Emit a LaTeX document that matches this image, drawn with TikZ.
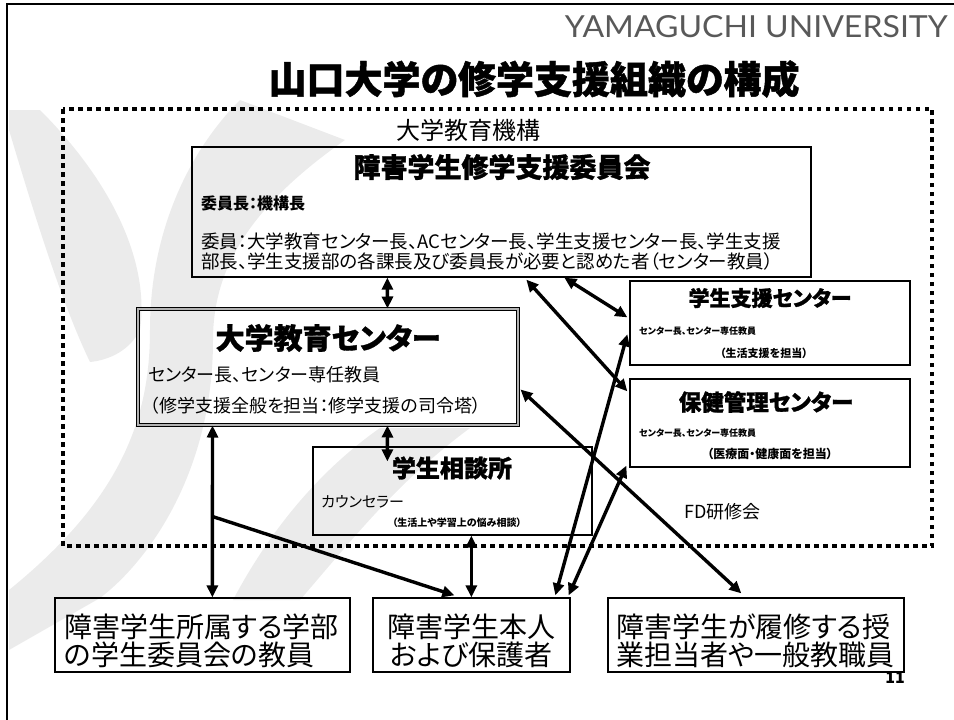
\documentclass[tikz,border=0pt]{standalone}
\usepackage{fontspec}
\usepackage{graphicx}
\setmainfont{Noto Sans CJK JP}[RawFeature=+palt]
\newfontfamily\heavyjp{Noto Sans CJK JP}[RawFeature=+palt, BoldFeatures={FakeBold=1.2}]
\newfontfamily\yufont{Lato}
\usetikzlibrary{arrows.meta,calc}
\newcommand{\fsz}[1]{\fontsize{#1}{#1}\selectfont}
\begin{document}
\begin{tikzpicture}[x=1pt,y=-1pt,
  box/.style={draw, line width=1.3pt, inner sep=0pt},
  wm/.style={fill=gray!16},
  arr/.style={line width=3.4pt, {Triangle[length=12pt,width=11pt]}-{Triangle[length=12pt,width=11pt]}},
  arrone/.style={line width=3.4pt, -{Triangle[length=12pt,width=11pt]}},
  txt/.style={inner sep=0pt}]
\useasboundingbox (0,0) rectangle (954,720);
% watermark
\fill[wm] (9,110) -- (40,110) .. controls (110,180) and (150,260) .. (140,330) .. controls (130,350) and (110,360) .. (90,362) .. controls (60,300) and (30,200) .. (9,130) -- cycle;
\fill[wm] (240,100) -- (345,140) .. controls (260,200) and (213,260) .. (213,340) .. controls (213,470) and (150,560) .. (100,598) -- (9,650) -- (9,590) .. controls (120,500) and (150,420) .. (150,330) .. controls (150,230) and (190,150) .. (240,100) -- cycle;
\fill[wm] (380,428) -- (470,428) .. controls (400,480) and (360,530) .. (300,600) -- (233,600) .. controls (270,530) and (320,470) .. (380,428) -- cycle;
% page frame
\draw[line width=2pt] (7,720) -- (7,4) -- (954,4);
% header
\node[txt, anchor=east, text=gray!70!black] (uni) at (948,27) {\resizebox{383pt}{22pt}{\yufont YAMAGUCHI UNIVERSITY}};
\node[txt, font=\heavyjp\bfseries\fsz{38}] (title) at (534,79) {山口大学の修学支援組織の構成};
% dotted frame
\draw[line width=3.5pt, dash pattern=on 4.5pt off 4.5pt] (63,109) rectangle (932,546);
\node[txt, font=\fsz{24}] (kikou) at (468,130) {大学教育機構};
% boxes
\node[box, minimum width=619pt, minimum height=130pt] (comm) at (501.5,212) {};
\node[box, draw=black, double=gray!60, double distance=2pt, line width=1pt, minimum width=380pt, minimum height=116pt] (dec) at (328,367) {};
\node[box, minimum width=280pt, minimum height=84pt] (ssc) at (770,323) {};
\node[box, minimum width=280pt, minimum height=88pt] (hmc) at (770,423) {};
\node[box, minimum width=279pt, minimum height=88pt] (sc) at (452.5,491) {};
\node[box, minimum width=295pt, minimum height=74pt] (bA) at (202.5,635) {};
\node[box, minimum width=197pt, minimum height=74pt] (bB) at (471.5,635) {};
\node[box, minimum width=296pt, minimum height=74pt] (bC) at (756,635) {};
% committee text
\node[txt, font=\heavyjp\bfseries\fsz{27}] (commT) at (502,167) {障害学生修学支援委員会};
\node[txt, anchor=west, font=\bfseries\fsz{16}] (commC) at (201,203) {委員長：機構長};
\node[txt, anchor=west, align=left, font=\fontsize{18.5}{20}\selectfont] (commM) at (201,252) {委員：大学教育センター長、ACセンター長、学生支援センター長、学生支援\\部長、学生支援部の各課長及び委員長が必要と認めた者（センター教員）};
% dec text
\node[txt, font=\heavyjp\bfseries\fsz{29}] (decT) at (328,338) {大学教育センター};
\node[txt, anchor=west, font=\fsz{18}] (decL1) at (148,375) {センター長、センター専任教員};
\node[txt, anchor=west, font=\fsz{18}] (decL2) at (150,406) {（修学支援全般を担当：修学支援の司令塔）};
% ssc text
\node[txt, font=\heavyjp\bfseries\fsz{21}] (sscT) at (770,298) {学生支援センター};
\node[txt, anchor=west, font=\bfseries\fsz{9}] (sscL1) at (639,331) {センター長、センター専任教員};
\node[txt, font=\bfseries\fsz{11}] (sscL2) at (764,353) {（生活支援を担当）};
% hmc text
\node[txt, font=\heavyjp\bfseries\fsz{22.5}] (hmcT) at (766,402) {保健管理センター};
\node[txt, anchor=west, font=\bfseries\fsz{9}] (hmcL1) at (639,433) {センター長、センター専任教員};
\node[txt, font=\bfseries\fsz{12}] (hmcL2) at (770,454) {（医療面・健康面を担当）};
% sc text
\node[txt, font=\heavyjp\bfseries\fsz{24}] (scT) at (452,468) {学生相談所};
\node[txt, anchor=west, font=\fsz{15}] (scL1) at (321,502) {カウンセラー};
\node[txt, font=\bfseries\fsz{10}] (scL2) at (457,523) {（生活上や学習上の悩み相談）};
% FD
\node[txt, anchor=west, font=\fsz{18}] (fd) at (684,512) {FD研修会};
% bottom texts
\node[txt, anchor=west, align=left, font=\fontsize{28}{28}\selectfont] (bAt) at (64,641) {障害学生所属する学部\\の学生委員会の教員};
\node[txt, align=center, font=\fontsize{28}{28}\selectfont] (bBt) at (471.5,641) {障害学生本人\\および保護者};
\node[txt, anchor=west, align=left, font=\fontsize{28}{28}\selectfont] (bCt) at (616,641) {障害学生が履修する授\\業担当者や一般教職員};
\node[txt, anchor=east, font=\bfseries\fsz{16}] (pg) at (905,678) {11};
% connectors
\draw[arr] ($(comm.south west)+(196,0)$) -- ($(dec.north west)+(250,0)$);
\draw[arr] ($(dec.south west)+(250,0)$) -- ($(sc.north west)+(75,15)$);
\draw[arr] ($(dec.south west)+(75,0)$) -- ($(bA.north west)+(158,0)$);
\coordinate (br) at ($(dec.south west)+(75,91)$);
\draw[arrone] (br) -- ($(bB.north west)+(82,-2)$);
\draw[arr] ($(sc.south west)+(159,0)$) -- ($(bB.north west)+(99,0)$);
\draw[arr] ($(comm.south west)+(373,0)$) -- ($(ssc.north west)+(-2,37)$);
\draw[arr] ($(comm.south west)+(335,2)$) -- ($(hmc.north west)+(-2,13)$);
\draw[arr] ($(ssc.north west)+(-2,54)$) -- ($(bB.north west)+(183,-2)$);
\draw[arr] ($(hmc.south west)+(-3,-2)$) -- ($(bB.north east)+(-2,-2)$);
\draw[arr] ($(dec.south east)+(2,-36)$) -- ($(bC.north west)+(134,-4)$);
\end{tikzpicture}
\end{document}
